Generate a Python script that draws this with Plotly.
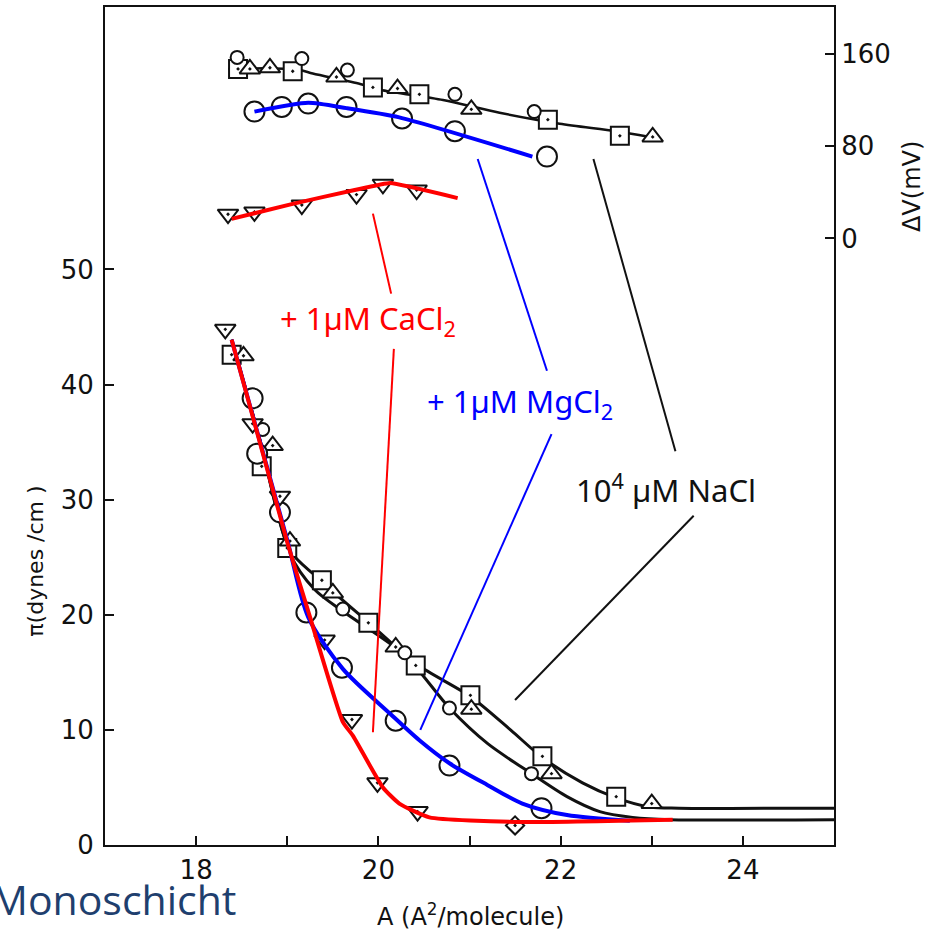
import plotly.graph_objects as go

# ---------------- data ----------------
# Lower panel: surface pressure pi (dynes/cm) vs A (A^2/molecule)
sq_A = [18.39, 18.72, 19.0, 19.38, 19.89, 20.41, 21.01, 21.80, 22.61]
sq_P = [42.6, 32.9, 25.8, 23.0, 19.3, 15.6, 13.0, 7.7, 4.2]

tri_A = [18.52, 18.84, 19.03, 19.5, 20.19, 21.02, 21.9, 23.0]
tri_P = [42.5, 34.7, 26.4, 21.9, 17.2, 11.8, 6.2, 3.6]

sc_A = [18.73, 19.61, 20.29, 20.78, 21.68]
sc_P = [36.1, 20.5, 16.7, 11.9, 6.2]

lc_A = [18.62, 18.67, 18.92, 19.21, 19.6, 20.19, 20.78, 21.79]
lc_P = [38.8, 34.0, 28.9, 20.2, 15.4, 10.8, 6.9, 3.2]

inv_A = [18.32, 18.62, 18.92, 19.41, 19.71, 19.99, 20.43]
inv_P = [44.8, 36.6, 30.3, 17.8, 10.9, 5.4, 2.9]

dia_A = [21.5]
dia_P = [1.7]

# curves through the lower data
nacl1_A = [18.39, 18.7, 19.03, 19.32, 19.94, 20.42, 21.01, 21.45, 21.8, 22.24, 22.61, 22.98, 23.3, 25.0]
nacl1_P = [43.9, 35.2, 25.6, 23.3, 19.0, 15.7, 12.9, 10.0, 7.6, 5.4, 4.1, 3.3, 3.2, 3.2]
nacl2_A = [18.39, 18.7, 19.03, 19.3, 19.61, 20.29, 20.78, 21.2, 21.68, 22.07, 22.43, 22.79, 23.2, 25.0]
nacl2_P = [43.9, 35.2, 25.3, 22.2, 20.3, 16.5, 11.9, 8.8, 6.2, 4.2, 2.9, 2.4, 2.2, 2.2]
mg_A = [18.39, 19.0, 19.23, 19.61, 20.13, 20.45, 20.78, 21.2, 21.58, 22.07, 22.76]
mg_P = [43.9, 26.5, 19.8, 15.3, 11.4, 9.1, 7.1, 5.2, 3.6, 2.6, 2.1]
ca_A = [18.39, 19.0, 19.25, 19.61, 19.72, 20.05, 20.23, 20.56, 21.5, 23.23]
ca_P = [43.9, 26.3, 19.8, 10.7, 9.5, 5.0, 3.6, 2.4, 2.0, 2.2]

# Upper panel: surface potential dV (mV) vs A
sq_dv_A = [18.46, 19.06, 19.94, 20.45, 21.86, 22.65]
sq_dv = [147, 145, 131, 125, 103, 89]
tri_dv_A = [18.59, 18.81, 19.54, 20.21, 21.02, 23.01]
tri_dv = [147, 148, 140, 130, 112, 88]
sc_dv_A = [18.45, 19.16, 19.66, 20.84, 21.71]
sc_dv = [157, 156, 146, 125, 110]
lc_dv_A = [18.64, 18.94, 19.23, 19.65, 20.26, 20.84, 21.85]
lc_dv = [110, 114, 117, 114, 104, 93, 71]
inv_dv_A = [18.35, 18.64, 19.16, 19.76, 20.05, 20.42]
inv_dv = [21, 23, 29, 38, 47, 42]

nacl_dv_fit_A = [18.35, 18.8, 19.14, 19.28, 19.8, 20.02, 20.71, 21.33, 21.99, 22.61, 22.98]
nacl_dv_fit = [147, 147.5, 146, 143, 134, 129, 120, 109, 99.5, 93, 88]
mg_dv_fit_A = [18.64, 19.23, 19.65, 20.23, 21.69]
mg_dv_fit = [110, 117.6, 113, 105, 71]
ca_dv_fit_A = [18.39, 19.06, 19.74, 20.13, 20.87]
ca_dv_fit = [17, 30, 42, 48, 35]

x_ticks = [18, 19, 20, 21, 22, 23, 24]
x_ticktext = ["18", "", "20", "", "22", "", "24"]
y_ticks = [0, 10, 20, 30, 40, 50]
y2_ticks = [0, 80, 160]

# pointer lines (A, pi) pairs
ptr_red = [((19.94, 54.85), (20.14, 47.9)), ((20.17, 43.1), (19.94, 9.8))]
ptr_blue = [((21.09, 59.6), (21.85, 41.2)), ((21.9, 35.7), (20.46, 10.0))]
ptr_black = [((22.36, 59.6), (23.26, 34.2)), ((23.46, 28.6), (21.5, 12.6))]

RED = "#ff0000"
BLUE = "#0000ff"
BLK = "#111111"

fig = go.Figure()

def curve(x, y, color, width, yaxis="y", smooth=0.8):
    fig.add_trace(go.Scatter(x=x, y=y, mode="lines", yaxis=yaxis,
                             line=dict(color=color, width=width, shape="spline", smoothing=smooth),
                             hoverinfo="skip", showlegend=False))

def marks(x, y, symbol, size, yaxis="y"):
    fig.add_trace(go.Scatter(x=x, y=y, mode="markers", yaxis=yaxis,
                             marker=dict(symbol=symbol, size=size, color="white",
                                         line=dict(color=BLK, width=2)),
                             showlegend=False))

# black curves first
curve(nacl1_A, nacl1_P, BLK, 3)
curve(nacl2_A, nacl2_P, BLK, 3)
curve(nacl_dv_fit_A, nacl_dv_fit, BLK, 2.5, "y2")

# markers lower
marks(sq_A, sq_P, "square-dot", 18)
marks(tri_A, tri_P, "triangle-up-dot", 18)
marks(sc_A, sc_P, "circle", 13)
marks(lc_A, lc_P, "circle", 20)
marks(inv_A, inv_P, "triangle-down-dot", 18)
marks(dia_A, dia_P, "diamond-dot", 14)
# markers upper
marks(sq_dv_A, sq_dv, "square-dot", 18, "y2")
marks(tri_dv_A, tri_dv, "triangle-up-dot", 18, "y2")
marks(sc_dv_A, sc_dv, "circle", 13, "y2")
marks(lc_dv_A, lc_dv, "circle", 20, "y2")
marks(inv_dv_A, inv_dv, "triangle-down-dot", 18, "y2")

# coloured overlays
curve(mg_A, mg_P, BLUE, 4)
curve(ca_A, ca_P, RED, 4, smooth=0.5)
curve(mg_dv_fit_A, mg_dv_fit, BLUE, 4, "y2", smooth=0.6)
curve(ca_dv_fit_A, ca_dv_fit, RED, 4, "y2", smooth=0.3)

shapes = []
for segs, col in ((ptr_red, RED), (ptr_blue, BLUE), (ptr_black, BLK)):
    for (x0, y0), (x1, y1) in segs:
        shapes.append(dict(type="line", xref="x", yref="y", x0=x0, y0=y0, x1=x1, y1=y1,
                           line=dict(color=col, width=2)))

ann_font = "Noto Sans, Open Sans, sans-serif"
annotations = [
    dict(x=19.89, y=45.6, xref="x", yref="y", text="+ 1µM CaCl<sub>2</sub>", showarrow=False,
         xanchor="center", yanchor="middle",
         font=dict(family=ann_font, size=31, color=RED)),
    dict(x=21.55, y=38.4, xref="x", yref="y", text="+ 1µM MgCl<sub>2</sub>", showarrow=False,
         xanchor="center", yanchor="middle",
         font=dict(family=ann_font, size=31, color=BLUE)),
    dict(x=23.16, y=31.0, xref="x", yref="y", text="10<sup>4</sup> µM NaCl", showarrow=False,
         xanchor="center", yanchor="middle",
         font=dict(family=ann_font, size=31, color="#111111")),
    dict(x=0.502, y=-0.083, xref="paper", yref="paper", text="A (A<sup>2</sup>/molecule)",
         showarrow=False, xanchor="center", yanchor="middle",
         font=dict(family="DejaVu Sans", size=24, color="#111111")),
    dict(x=-0.095, y=0.339, xref="paper", yref="paper", text="π(dynes /cm )", textangle=-90,
         showarrow=False, xanchor="center", yanchor="middle",
         font=dict(family="DejaVu Sans", size=22, color="#111111")),
    dict(x=1.108, y=0.786, xref="paper", yref="paper", text="ΔV(mV)", textangle=-90,
         showarrow=False, xanchor="center", yanchor="middle",
         font=dict(family="DejaVu Sans", size=24, color="#111111")),
    dict(x=0.1824, y=-0.064, xref="paper", yref="paper", text="Monoschicht", xanchor="right",
         yanchor="middle", showarrow=False,
         font=dict(family="Open Sans, Noto Sans", size=41, color="#1f3f6e")),
]

tickfont = dict(family="DejaVu Sans", size=26, color="#111111")
fig.update_layout(
    width=930, height=932,
    margin=dict(l=105, r=96, t=5, b=87),
    paper_bgcolor="white", plot_bgcolor="white",
    shapes=shapes, annotations=annotations,
    xaxis=dict(range=[17, 25], tickvals=x_ticks, ticktext=x_ticktext, ticks="inside",
               ticklen=9, tickwidth=2, tickcolor=BLK, showline=True, linecolor=BLK, linewidth=2,
               mirror=True, showgrid=False, zeroline=False, tickfont=tickfont,
               ticklabelstandoff=1),
    yaxis=dict(range=[0, 72.8], tickvals=y_ticks, ticks="inside", ticklen=9, tickwidth=2,
               tickcolor=BLK, showline=True, linecolor=BLK, linewidth=2, mirror=True,
               showgrid=False, zeroline=False, tickfont=tickfont, ticklabelstandoff=4),
    yaxis2=dict(range=[-526, 200.7], overlaying="y", side="right", tickvals=y2_ticks,
                ticks="inside", ticklen=9, tickwidth=2, tickcolor=BLK, showline=True,
                linecolor=BLK, linewidth=2, showgrid=False, zeroline=False, tickfont=tickfont,
                ticklabelstandoff=0),
)

fig.write_html("out.html", config={"displayModeBar": False},
               post_script="document.body.style.margin='0';")
